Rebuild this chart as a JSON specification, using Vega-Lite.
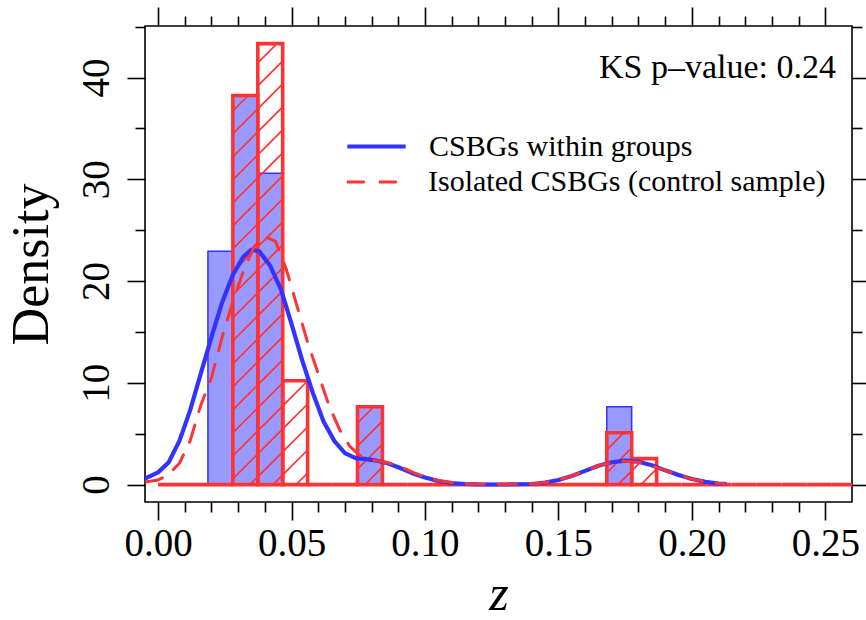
{
  "$schema": "https://vega.github.io/schema/vega-lite/v6.json",
  "width": 707,
  "height": 476,
  "autosize": "none",
  "padding": {"left": 145, "top": 26, "right": 14, "bottom": 118},
  "background": "white",
  "config": {
    "view": {"stroke": "black", "strokeWidth": 1.6},
    "font": "Liberation Serif",
    "axis": {
      "domain": false,
      "grid": false,
      "tickColor": "black",
      "tickWidth": 1.6,
      "labelFont": "Liberation Serif",
      "labelFontSize": 39,
      "labelColor": "black",
      "labelFlush": false,
      "labelOverlap": false,
      "titleFont": "Liberation Serif",
      "titleFontSize": 52,
      "titleColor": "black",
      "titleFontWeight": "normal"
    },
    "legend": {
      "orient": "none",
      "padding": 0,
      "labelFont": "Liberation Serif",
      "labelFontSize": 30,
      "labelColor": "black",
      "labelOffset": 21,
      "labelLimit": 0,
      "symbolType": "stroke",
      "symbolSize": 3400
    }
  },
  "title": {
    "text": "KS p–value: 0.24",
    "anchor": "end",
    "frame": "group",
    "orient": "top",
    "offset": -51,
    "dx": -16,
    "dy": 55,
    "baseline": "alphabetic",
    "font": "Liberation Serif",
    "fontSize": 34,
    "fontWeight": "normal",
    "color": "black"
  },
  "datasets": {
    "groupBins": [
      {"z0": 0.01868, "z1": 0.02802, "density": 22.94},
      {"z0": 0.02802, "z1": 0.03736, "density": 38.24},
      {"z0": 0.03736, "z1": 0.0467, "density": 30.59},
      {"z0": 0.0467, "z1": 0.05604, "density": 0},
      {"z0": 0.05604, "z1": 0.06538, "density": 0},
      {"z0": 0.06538, "z1": 0.07472, "density": 0},
      {"z0": 0.07472, "z1": 0.08406, "density": 7.65},
      {"z0": 0.08406, "z1": 0.0934, "density": 0},
      {"z0": 0.0934, "z1": 0.10274, "density": 0},
      {"z0": 0.10274, "z1": 0.11208, "density": 0},
      {"z0": 0.11208, "z1": 0.12142, "density": 0},
      {"z0": 0.12142, "z1": 0.13076, "density": 0},
      {"z0": 0.13076, "z1": 0.1401, "density": 0},
      {"z0": 0.1401, "z1": 0.14944, "density": 0},
      {"z0": 0.14944, "z1": 0.15878, "density": 0},
      {"z0": 0.15878, "z1": 0.16812, "density": 0},
      {"z0": 0.16812, "z1": 0.17746, "density": 7.65},
      {"z0": 0.17746, "z1": 0.1868, "density": 0}
    ],
    "isolatedBins": [
      {"z0": 0, "z1": 0.00934, "density": 0},
      {"z0": 0.00934, "z1": 0.01868, "density": 0},
      {"z0": 0.01868, "z1": 0.02802, "density": 0},
      {"z0": 0.02802, "z1": 0.03736, "density": 38.24},
      {"z0": 0.03736, "z1": 0.0467, "density": 43.34},
      {"z0": 0.0467, "z1": 0.05604, "density": 10.2},
      {"z0": 0.05604, "z1": 0.06538, "density": 0},
      {"z0": 0.06538, "z1": 0.07472, "density": 0},
      {"z0": 0.07472, "z1": 0.08406, "density": 7.65},
      {"z0": 0.08406, "z1": 0.0934, "density": 0},
      {"z0": 0.0934, "z1": 0.10274, "density": 0},
      {"z0": 0.10274, "z1": 0.11208, "density": 0},
      {"z0": 0.11208, "z1": 0.12142, "density": 0},
      {"z0": 0.12142, "z1": 0.13076, "density": 0},
      {"z0": 0.13076, "z1": 0.1401, "density": 0},
      {"z0": 0.1401, "z1": 0.14944, "density": 0},
      {"z0": 0.14944, "z1": 0.15878, "density": 0},
      {"z0": 0.15878, "z1": 0.16812, "density": 0},
      {"z0": 0.16812, "z1": 0.17746, "density": 5.1},
      {"z0": 0.17746, "z1": 0.1868, "density": 2.55},
      {"z0": 0.1868, "z1": 0.19614, "density": 0},
      {"z0": 0.19614, "z1": 0.20548, "density": 0},
      {"z0": 0.20548, "z1": 0.21482, "density": 0},
      {"z0": 0.21482, "z1": 0.22416, "density": 0},
      {"z0": 0.22416, "z1": 0.2335, "density": 0},
      {"z0": 0.2335, "z1": 0.24284, "density": 0},
      {"z0": 0.24284, "z1": 0.25218, "density": 0},
      {"z0": 0.25218, "z1": 0.26152, "density": 0}
    ],
    "groupCurve": [
      {"sample": "CSBGs within groups", "z": -0.0049, "density": 0.6},
      {"sample": "CSBGs within groups", "z": 0.0, "density": 1.2},
      {"sample": "CSBGs within groups", "z": 0.004, "density": 2.2},
      {"sample": "CSBGs within groups", "z": 0.008, "density": 4.3},
      {"sample": "CSBGs within groups", "z": 0.012, "density": 7.3},
      {"sample": "CSBGs within groups", "z": 0.016, "density": 10.9},
      {"sample": "CSBGs within groups", "z": 0.02, "density": 14.5},
      {"sample": "CSBGs within groups", "z": 0.024, "density": 17.9},
      {"sample": "CSBGs within groups", "z": 0.028, "density": 20.6},
      {"sample": "CSBGs within groups", "z": 0.032, "density": 22.4},
      {"sample": "CSBGs within groups", "z": 0.035, "density": 23.1},
      {"sample": "CSBGs within groups", "z": 0.038, "density": 22.9},
      {"sample": "CSBGs within groups", "z": 0.042, "density": 21.5},
      {"sample": "CSBGs within groups", "z": 0.046, "density": 19.2},
      {"sample": "CSBGs within groups", "z": 0.05, "density": 15.8},
      {"sample": "CSBGs within groups", "z": 0.054, "density": 12.2},
      {"sample": "CSBGs within groups", "z": 0.058, "density": 9.0},
      {"sample": "CSBGs within groups", "z": 0.062, "density": 6.2},
      {"sample": "CSBGs within groups", "z": 0.066, "density": 4.3},
      {"sample": "CSBGs within groups", "z": 0.07, "density": 3.1},
      {"sample": "CSBGs within groups", "z": 0.074, "density": 2.6},
      {"sample": "CSBGs within groups", "z": 0.078, "density": 2.5},
      {"sample": "CSBGs within groups", "z": 0.082, "density": 2.35},
      {"sample": "CSBGs within groups", "z": 0.086, "density": 2.1},
      {"sample": "CSBGs within groups", "z": 0.09, "density": 1.7},
      {"sample": "CSBGs within groups", "z": 0.095, "density": 1.15},
      {"sample": "CSBGs within groups", "z": 0.1, "density": 0.7},
      {"sample": "CSBGs within groups", "z": 0.105, "density": 0.35},
      {"sample": "CSBGs within groups", "z": 0.11, "density": 0.15},
      {"sample": "CSBGs within groups", "z": 0.115, "density": 0.06},
      {"sample": "CSBGs within groups", "z": 0.12, "density": 0.02},
      {"sample": "CSBGs within groups", "z": 0.13, "density": 0.01},
      {"sample": "CSBGs within groups", "z": 0.14, "density": 0.06},
      {"sample": "CSBGs within groups", "z": 0.145, "density": 0.2},
      {"sample": "CSBGs within groups", "z": 0.15, "density": 0.45},
      {"sample": "CSBGs within groups", "z": 0.155, "density": 0.85},
      {"sample": "CSBGs within groups", "z": 0.16, "density": 1.35},
      {"sample": "CSBGs within groups", "z": 0.165, "density": 1.85},
      {"sample": "CSBGs within groups", "z": 0.17, "density": 2.2},
      {"sample": "CSBGs within groups", "z": 0.175, "density": 2.35},
      {"sample": "CSBGs within groups", "z": 0.18, "density": 2.25},
      {"sample": "CSBGs within groups", "z": 0.185, "density": 1.9},
      {"sample": "CSBGs within groups", "z": 0.19, "density": 1.4},
      {"sample": "CSBGs within groups", "z": 0.195, "density": 0.95},
      {"sample": "CSBGs within groups", "z": 0.2, "density": 0.55},
      {"sample": "CSBGs within groups", "z": 0.205, "density": 0.27},
      {"sample": "CSBGs within groups", "z": 0.21, "density": 0.1},
      {"sample": "CSBGs within groups", "z": 0.2124, "density": 0.07}
    ],
    "isolatedCurve": [
      {"sample": "Isolated CSBGs (control sample)", "z": -0.0049, "density": 0.25},
      {"sample": "Isolated CSBGs (control sample)", "z": 0.0, "density": 0.45},
      {"sample": "Isolated CSBGs (control sample)", "z": 0.004, "density": 1.0},
      {"sample": "Isolated CSBGs (control sample)", "z": 0.008, "density": 2.1},
      {"sample": "Isolated CSBGs (control sample)", "z": 0.012, "density": 4.3},
      {"sample": "Isolated CSBGs (control sample)", "z": 0.016, "density": 7.8},
      {"sample": "Isolated CSBGs (control sample)", "z": 0.02, "density": 10.5},
      {"sample": "Isolated CSBGs (control sample)", "z": 0.024, "density": 14.5},
      {"sample": "Isolated CSBGs (control sample)", "z": 0.028, "density": 18.0},
      {"sample": "Isolated CSBGs (control sample)", "z": 0.032, "density": 21.0},
      {"sample": "Isolated CSBGs (control sample)", "z": 0.036, "density": 23.4},
      {"sample": "Isolated CSBGs (control sample)", "z": 0.04, "density": 24.4},
      {"sample": "Isolated CSBGs (control sample)", "z": 0.044, "density": 23.9},
      {"sample": "Isolated CSBGs (control sample)", "z": 0.048, "density": 21.2},
      {"sample": "Isolated CSBGs (control sample)", "z": 0.052, "density": 17.6},
      {"sample": "Isolated CSBGs (control sample)", "z": 0.056, "density": 14.0},
      {"sample": "Isolated CSBGs (control sample)", "z": 0.06, "density": 10.9},
      {"sample": "Isolated CSBGs (control sample)", "z": 0.064, "density": 7.8},
      {"sample": "Isolated CSBGs (control sample)", "z": 0.068, "density": 5.4},
      {"sample": "Isolated CSBGs (control sample)", "z": 0.072, "density": 3.7},
      {"sample": "Isolated CSBGs (control sample)", "z": 0.076, "density": 2.8},
      {"sample": "Isolated CSBGs (control sample)", "z": 0.08, "density": 2.45},
      {"sample": "Isolated CSBGs (control sample)", "z": 0.084, "density": 2.25},
      {"sample": "Isolated CSBGs (control sample)", "z": 0.088, "density": 2.0},
      {"sample": "Isolated CSBGs (control sample)", "z": 0.092, "density": 1.6},
      {"sample": "Isolated CSBGs (control sample)", "z": 0.096, "density": 1.15},
      {"sample": "Isolated CSBGs (control sample)", "z": 0.1, "density": 0.75},
      {"sample": "Isolated CSBGs (control sample)", "z": 0.105, "density": 0.4},
      {"sample": "Isolated CSBGs (control sample)", "z": 0.11, "density": 0.18},
      {"sample": "Isolated CSBGs (control sample)", "z": 0.115, "density": 0.07},
      {"sample": "Isolated CSBGs (control sample)", "z": 0.12, "density": 0.03},
      {"sample": "Isolated CSBGs (control sample)", "z": 0.13, "density": 0.02},
      {"sample": "Isolated CSBGs (control sample)", "z": 0.14, "density": 0.06},
      {"sample": "Isolated CSBGs (control sample)", "z": 0.145, "density": 0.2},
      {"sample": "Isolated CSBGs (control sample)", "z": 0.15, "density": 0.45},
      {"sample": "Isolated CSBGs (control sample)", "z": 0.155, "density": 0.85},
      {"sample": "Isolated CSBGs (control sample)", "z": 0.16, "density": 1.35},
      {"sample": "Isolated CSBGs (control sample)", "z": 0.165, "density": 1.85},
      {"sample": "Isolated CSBGs (control sample)", "z": 0.17, "density": 2.2},
      {"sample": "Isolated CSBGs (control sample)", "z": 0.175, "density": 2.3},
      {"sample": "Isolated CSBGs (control sample)", "z": 0.18, "density": 2.2},
      {"sample": "Isolated CSBGs (control sample)", "z": 0.185, "density": 1.85},
      {"sample": "Isolated CSBGs (control sample)", "z": 0.19, "density": 1.4},
      {"sample": "Isolated CSBGs (control sample)", "z": 0.195, "density": 0.95},
      {"sample": "Isolated CSBGs (control sample)", "z": 0.2, "density": 0.55},
      {"sample": "Isolated CSBGs (control sample)", "z": 0.205, "density": 0.27},
      {"sample": "Isolated CSBGs (control sample)", "z": 0.21, "density": 0.1},
      {"sample": "Isolated CSBGs (control sample)", "z": 0.2124, "density": 0.07}
    ]
  },
  "layer": [
    {
      "data": {"name": "groupBins"},
      "mark": {"type": "rect", "fill": "#9999ff", "stroke": "#3333ff", "strokeWidth": 1.5, "clip": true},
      "encoding": {
        "x": {
          "field": "z0", "type": "quantitative",
          "scale": {"domain": [-0.0049, 0.26], "nice": false, "zero": false},
          "axis": {
            "orient": "bottom",
            "values": [0, 0.01, 0.02, 0.03, 0.04, 0.05, 0.06, 0.07, 0.08, 0.09, 0.1, 0.11, 0.12, 0.13, 0.14, 0.15, 0.16, 0.17, 0.18, 0.19, 0.2, 0.21, 0.22, 0.23, 0.24, 0.25],
            "format": ".2f",
            "labelExpr": "abs(datum.value * 20 - round(datum.value * 20)) < 1e-6 ? datum.label : ''",
            "tickSize": {"condition": {"test": "abs(datum.value * 20 - round(datum.value * 20)) < 1e-6", "value": 18}, "value": 10},
            "labelPadding": 35,
            "labelBaseline": "alphabetic",
            "title": "z",
            "titleFontStyle": "italic",
            "titleFontSize": 50,
            "titleX": 353.5,
            "titleY": 107,
            "titleAlign": "center",
            "titleBaseline": "alphabetic",
            "titleAngle": 0
          }
        },
        "x2": {"field": "z1"},
        "y": {
          "field": "density", "type": "quantitative",
          "scale": {"domain": [-1.71, 45.07], "nice": false, "zero": false},
          "axis": {
            "orient": "left",
            "values": [0, 5, 10, 15, 20, 25, 30, 35, 40, 45],
            "labelExpr": "datum.value % 10 == 0 ? datum.label : ''",
            "tickSize": {"condition": {"test": "datum.value % 10 == 0", "value": 18}, "value": 10},
            "labelAngle": 270,
            "labelAlign": "center",
            "labelBaseline": "alphabetic",
            "labelPadding": 19,
            "title": "Density",
            "titleX": -98,
            "titleY": 238,
            "titleAngle": 270,
            "titleAlign": "center",
            "titleBaseline": "alphabetic"
          }
        },
        "y2": {"datum": 0}
      }
    },
    {
      "data": {"name": "isolatedBins"},
      "transform": [
        {"filter": "datum.density > 0"},
        {"calculate": "datum.z0 * 2669.6", "as": "px0"},
        {"calculate": "datum.z1 * 2669.6", "as": "px1"},
        {"calculate": "datum.density * 10.175", "as": "ph"},
        {"calculate": "sequence(-25, 30)", "as": "k"},
        {"flatten": ["k"]},
        {"calculate": "datum.k * 23", "as": "c"},
        {"calculate": "max(datum.px0, datum.c)", "as": "xs"},
        {"calculate": "min(datum.px1, datum.ph + datum.c)", "as": "xe"},
        {"filter": "datum.xs < datum.xe"},
        {"calculate": "datum.xs / 2669.6", "as": "hz"},
        {"calculate": "(datum.xs - datum.c) / 10.175", "as": "hd"},
        {"calculate": "datum.xe / 2669.6", "as": "hz2"},
        {"calculate": "(datum.xe - datum.c) / 10.175", "as": "hd2"}
      ],
      "mark": {"type": "rule", "stroke": "#ff3333", "strokeWidth": 1.7, "clip": true},
      "encoding": {
        "x": {"field": "hz", "type": "quantitative", "scale": {"domain": [-0.0049, 0.26], "nice": false, "zero": false}, "axis": null},
        "x2": {"field": "hz2"},
        "y": {"field": "hd", "type": "quantitative", "scale": {"domain": [-1.71, 45.07], "nice": false, "zero": false}, "axis": null},
        "y2": {"field": "hd2"}
      }
    },
    {
      "data": {"name": "isolatedBins"},
      "mark": {"type": "rect", "fill": null, "fillOpacity": 0, "stroke": "#ff3333", "strokeWidth": 3.6, "strokeJoin": "miter", "clip": true},
      "encoding": {
        "x": {
          "field": "z0", "type": "quantitative",
          "scale": {"domain": [-0.0049, 0.26], "nice": false, "zero": false},
          "axis": {
            "orient": "top",
            "values": [0, 0.01, 0.02, 0.03, 0.04, 0.05, 0.06, 0.07, 0.08, 0.09, 0.1, 0.11, 0.12, 0.13, 0.14, 0.15, 0.16, 0.17, 0.18, 0.19, 0.2, 0.21, 0.22, 0.23, 0.24, 0.25],
            "labels": false,
            "tickSize": {"condition": {"test": "abs(datum.value * 20 - round(datum.value * 20)) < 1e-6", "value": 19}, "value": 10},
            "title": null
          }
        },
        "x2": {"field": "z1"},
        "y": {
          "field": "density", "type": "quantitative",
          "scale": {"domain": [-1.71, 45.07], "nice": false, "zero": false},
          "axis": {
            "orient": "right",
            "values": [0, 5, 10, 15, 20, 25, 30, 35, 40, 45],
            "labels": false,
            "tickSize": {"condition": {"test": "datum.value % 10 == 0", "value": 18}, "value": 10},
            "title": null
          }
        },
        "y2": {"datum": 0}
      }
    },
    {
      "data": {"name": "groupCurve"},
      "mark": {"type": "line", "strokeWidth": 4.2, "strokeCap": "round", "strokeJoin": "round", "clip": true},
      "encoding": {
        "x": {"field": "z", "type": "quantitative", "scale": {"domain": [-0.0049, 0.26], "nice": false, "zero": false}, "axis": null},
        "y": {"field": "density", "type": "quantitative", "scale": {"domain": [-1.71, 45.07], "nice": false, "zero": false}, "axis": null},
        "color": {
          "field": "sample", "type": "nominal",
          "scale": {"domain": ["CSBGs within groups"], "range": ["#3333ff"]},
          "legend": {"title": null, "legendX": 200, "legendY": 89, "symbolStrokeWidth": 4.2}
        }
      }
    },
    {
      "data": {"name": "isolatedCurve"},
      "mark": {"type": "line", "strokeWidth": 3, "strokeCap": "round", "strokeJoin": "round", "clip": true},
      "encoding": {
        "x": {"field": "z", "type": "quantitative", "scale": {"domain": [-0.0049, 0.26], "nice": false, "zero": false}, "axis": null},
        "y": {"field": "density", "type": "quantitative", "scale": {"domain": [-1.71, 45.07], "nice": false, "zero": false}, "axis": null},
        "stroke": {
          "field": "sample", "type": "nominal",
          "scale": {"domain": ["Isolated CSBGs (control sample)"], "range": ["#ff3333"]},
          "legend": {"title": null, "legendX": 200, "legendY": 125, "symbolStrokeWidth": 3}
        },
        "strokeDash": {
          "field": "sample", "type": "nominal",
          "scale": {"domain": ["Isolated CSBGs (control sample)"], "range": [[18, 14]]},
          "legend": {"title": null, "legendX": 200, "legendY": 125, "symbolStrokeWidth": 3}
        }
      }
    }
  ],
  "resolve": {"axis": {"x": "independent", "y": "independent"}}
}
